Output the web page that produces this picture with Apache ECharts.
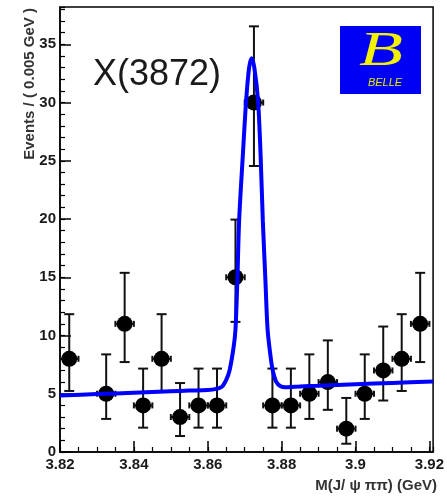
<!DOCTYPE html>
<html><head><meta charset="utf-8">
<script src="https://cdn.jsdelivr.net/npm/echarts@6/dist/echarts.min.js"></script>
<style>html,body{margin:0;padding:0;background:#fff}#c{width:447px;height:497px}</style>
</head><body><div id="c"></div>
<script>
// ---- data ----
const binCenters = [3.8225, 3.8325, 3.8375, 3.8425, 3.8475, 3.8525, 3.8575, 3.8625, 3.8675, 3.8725, 3.8775, 3.8825, 3.8875, 3.8925, 3.8975, 3.9025, 3.9075, 3.9125, 3.9175];
const counts     = [8, 5, 11, 4, 8, 3, 4, 4, 15, 30, 4, 4, 5, 6, 2, 5, 7, 8, 11];
const errLow     = [5.24, 2.84, 7.72, 2.09, 5.24, 1.37, 2.09, 2.09, 11.17, 24.55, 2.09, 2.09, 2.84, 3.62, 0.71, 2.84, 4.42, 5.24, 7.72];
const errHigh    = [11.83, 8.38, 15.38, 7.16, 11.83, 5.92, 7.16, 7.16, 19.95, 36.54, 7.16, 7.16, 8.38, 9.58, 4.64, 8.38, 10.77, 11.83, 15.38];
const fitX = [3.82, 3.83, 3.84, 3.85, 3.855, 3.86, 3.862, 3.8638, 3.865, 3.8659, 3.867, 3.8675, 3.868, 3.8685, 3.8695, 3.8704, 3.8712, 3.8719, 3.8726, 3.8736, 3.8743, 3.8749, 3.8756, 3.8762, 3.877, 3.8776, 3.8785, 3.8797, 3.881, 3.885, 3.89, 3.90, 3.91, 3.921];
const fitY = [4.85, 4.97, 5.09, 5.21, 5.27, 5.33, 5.40, 5.6, 6.2, 7.0, 9.0, 10.5, 14.6, 19.9, 25.5, 30.2, 33.0, 33.8, 33.0, 30.2, 25.5, 19.9, 14.8, 10.5, 8.2, 7.0, 6.05, 5.65, 5.56, 5.63, 5.69, 5.81, 5.93, 6.06];
const xTickValues = [3.82, 3.84, 3.86, 3.88, 3.90, 3.92];
const yTickValues = [0, 5, 10, 15, 20, 25, 30, 35];
const binWidth = 0.005;
const titleText = 'X(3872)';
const xTitle = 'M(J/ ψ ππ) (GeV)';
const yTitle = 'Events / ( 0.005 GeV )';
const logoText = 'BELLE';

const X_MIN = 3.82, X_MAX = 3.921, Y_MIN = 0, Y_MAX = 38.2;
const fontFam = '"Liberation Sans", Arial, Helvetica, sans-serif';
const chart = echarts.init(document.getElementById('c'), null, {renderer: 'canvas'});

const axisFont = {fontFamily: fontFam, fontSize: 15, fontWeight: 'bold', color: '#1a1a1a'};
const option = {
  animation: false,
  grid: {left: 60, right: 7, top: 7, bottom: 45, show: true, borderColor: '#000', borderWidth: 1.5, backgroundColor: 'transparent'},
  xAxis: [
    {type: 'value', min: X_MIN, max: X_MAX, position: 'bottom',
     axisLine: {show: true, onZero: false, lineStyle: {color: '#000', width: 1.5}},
     axisTick: {show: true, inside: true, length: 11, customValues: xTickValues, lineStyle: {color: '#000', width: 1.5}},
     axisLabel: Object.assign({customValues: xTickValues, margin: 5, formatter: v => String(parseFloat(Number(v).toFixed(3)))}, axisFont),
     splitLine: {show: false}},
    {type: 'value', min: X_MIN, max: X_MAX, position: 'bottom', interval: binWidth,
     axisLine: {show: false, onZero: false},
     axisTick: {show: true, inside: true, length: 5, lineStyle: {color: '#000', width: 1.2}},
     axisLabel: {show: false}, splitLine: {show: false}}
  ],
  yAxis: [
    {type: 'value', min: Y_MIN, max: Y_MAX, position: 'left',
     axisLine: {show: true, onZero: false, lineStyle: {color: '#000', width: 1.5}},
     axisTick: {show: true, inside: true, length: 11, customValues: yTickValues, lineStyle: {color: '#000', width: 1.5}},
     axisLabel: Object.assign({customValues: yTickValues, margin: 4}, axisFont),
     splitLine: {show: false}},
    {type: 'value', min: Y_MIN, max: Y_MAX, position: 'left', interval: 1,
     axisLine: {show: false, onZero: false},
     axisTick: {show: true, inside: true, length: 5, lineStyle: {color: '#000', width: 1.2}},
     axisLabel: {show: false}, splitLine: {show: false}}
  ],
  series: [
    {type: 'custom', xAxisIndex: 0, yAxisIndex: 0, z: 3,
     data: binCenters.map((x, i) => [x, counts[i], errLow[i], errHigh[i]]),
     renderItem: (params, api) => {
       const x = api.value(0), y = api.value(1), lo = api.value(2), hi = api.value(3);
       const pHi = api.coord([x, hi]), pLo = api.coord([x, lo]);
       const pL = api.coord([x - binWidth / 2, y]), pR = api.coord([x + binWidth / 2, y]);
       const cap = 5, hcap = 3;
       const st = {stroke: '#111', lineWidth: 2};
       return {type: 'group', children: [
         {type: 'line', shape: {x1: pHi[0], y1: pHi[1], x2: pLo[0], y2: pLo[1]}, style: st},
         {type: 'line', shape: {x1: pHi[0] - cap, y1: pHi[1], x2: pHi[0] + cap, y2: pHi[1]}, style: st},
         {type: 'line', shape: {x1: pLo[0] - cap, y1: pLo[1], x2: pLo[0] + cap, y2: pLo[1]}, style: st},
         {type: 'line', shape: {x1: pL[0], y1: pL[1], x2: pR[0], y2: pR[1]}, style: st},
         {type: 'line', shape: {x1: pL[0], y1: pL[1] - hcap, x2: pL[0], y2: pL[1] + hcap}, style: st},
         {type: 'line', shape: {x1: pR[0], y1: pR[1] - hcap, x2: pR[0], y2: pR[1] + hcap}, style: st}
       ]};
     }},
    {type: 'scatter', xAxisIndex: 0, yAxisIndex: 0, z: 4, symbol: 'circle', symbolSize: 16,
     itemStyle: {color: '#000', opacity: 1}, data: binCenters.map((x, i) => [x, counts[i]])},
    {type: 'line', xAxisIndex: 0, yAxisIndex: 0, z: 5, showSymbol: false, smooth: 0.3,
     lineStyle: {color: '#0000ff', width: 4}, data: fitX.map((x, i) => [x, fitY[i]])}
  ],
  graphic: [
    {type: 'text', x: 93, y: 57, style: {text: titleText, fontFamily: fontFam, fontSize: 36, fill: '#1a1a1a', verticalAlign: 'alphabetic', align: 'left'}},
    {type: 'rect', shape: {x: 340, y: 26, width: 81, height: 68}, style: {fill: '#0000f4'}},
    {type: 'text', x: 381, y: 52, scaleX: 1.5, style: {text: 'B', fontFamily: '"Liberation Serif", serif', fontStyle: 'italic', fontSize: 48, fill: '#f2f200', align: 'center', verticalAlign: 'middle'}},
    {type: 'text', x: 385, y: 83, style: {text: logoText, fontFamily: fontFam, fontStyle: 'italic', fontSize: 11, fill: '#e6e600', align: 'center', verticalAlign: 'middle'}},
    {type: 'text', x: 30, y: 8, rotation: Math.PI / 2, style: {text: yTitle, fontFamily: fontFam, fontSize: 15, fontWeight: 'bold', fill: '#333', align: 'right', verticalAlign: 'middle'}},
    {type: 'text', x: 437, y: 486, style: {text: xTitle, fontFamily: fontFam, fontSize: 15, fontWeight: 'bold', fill: '#333', align: 'right', verticalAlign: 'middle'}}
  ]
};
chart.setOption(option);
</script>
</body></html>
